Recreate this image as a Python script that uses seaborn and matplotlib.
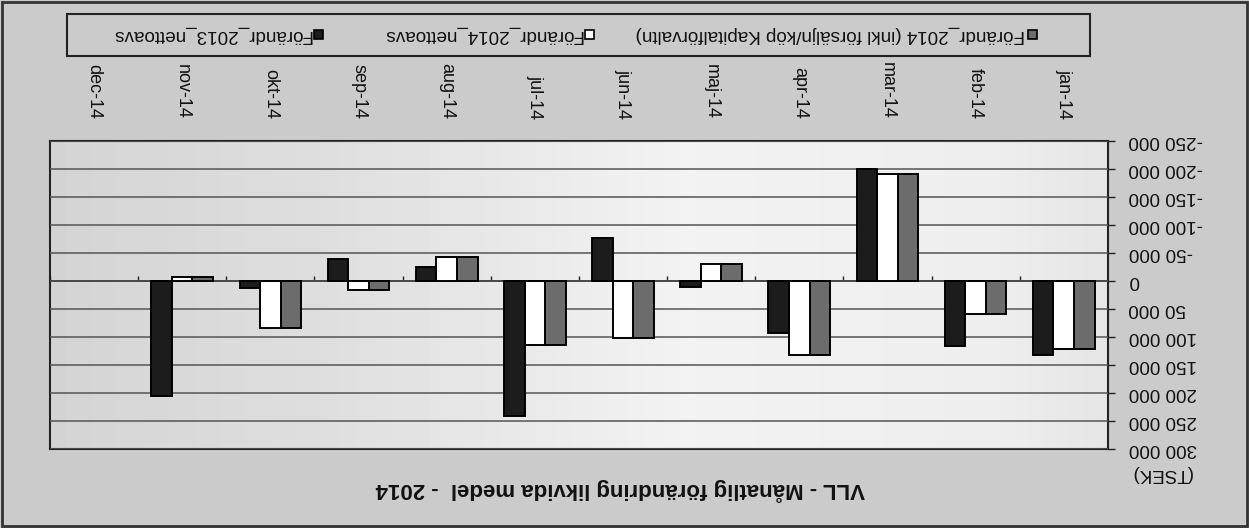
import numpy as np
import pandas as pd
import matplotlib
matplotlib.use("Agg")
import matplotlib.pyplot as plt
from matplotlib.patches import Rectangle
from matplotlib.ticker import FuncFormatter, MultipleLocator
import seaborn as sns

# ==================== data (TSEK) ====================
months = ["jan-14", "feb-14", "mar-14", "apr-14", "maj-14", "jun-14",
          "jul-14", "aug-14", "sep-14", "okt-14", "nov-14", "dec-14"]
series_names = ["Förändr_2014 (inkl försäljn/köp Kapitalförvaltn)",
                "Förändr_2014_nettoavs",
                "Förändr_2013_nettoavs"]
inkl_2014 = [121000, 60000, -191000, 133000, -30000, 102000,
             114000, -42000, 17000, 85000, -7000, np.nan]
netto_2014 = [121000, 60000, -191000, 133000, -30000, 102000,
              114000, -42000, 17000, 85000, -7000, np.nan]
netto_2013 = [132000, 117000, -200000, 93000, 11000, -77000,
              241000, -24000, -39000, 13000, 205000, np.nan]
series_colors = ["#6c6c6c", "#ffffff", "#1c1c1c"]

title = "VLL - Månatlig förändring likvida medel  - 2014"
unit = "(TSEK)"

df = pd.DataFrame({
    "month": months * 3,
    "serie": [series_names[0]] * 12 + [series_names[1]] * 12 + [series_names[2]] * 12,
    "value": inkl_2014 + netto_2014 + netto_2013,
})

# ==================== style ====================
sns.set_theme(style="white")
plt.rcParams["font.family"] = ["Liberation Sans", "DejaVu Sans"]

fig = plt.figure(figsize=(12.49, 5.28), dpi=100)
fig.patch.set_facecolor("#cbcbcb")
ax = fig.add_axes([0.040, 0.150, 0.847, 0.583])
ax.set_facecolor("#e6e6e6")

sns.barplot(data=df, x="month", y="value", hue="serie", order=months,
            hue_order=series_names, palette=series_colors, width=0.7,
            edgecolor="black", linewidth=1.4, legend=False, ax=ax, zorder=3)

# soft light falloff of the scanned plot area (darker on the left side of the picture)
shade = np.interp(np.linspace(0, 1, 200), [0, 0.25, 0.6, 0.9, 1], [0.83, 0.87, 0.95, 0.93, 0.90])
ax.imshow(shade[np.newaxis, :], cmap="gray", vmin=0, vmax=1, aspect="auto",
          extent=(11.5, -0.5, 300000, -250000), zorder=0, interpolation="bilinear")

# the scan is upside down: flip both axes and turn all text 180 degrees
ax.set_ylim(300000, -250000)
ax.set_xlim(11.5, -0.5)

ax.yaxis.set_major_locator(MultipleLocator(50000))
ax.yaxis.set_major_formatter(FuncFormatter(lambda v, p: f"{int(v):,}".replace(",", " ")))
ax.grid(axis="y", color="#555555", linewidth=1.1, zorder=1)
ax.grid(axis="x", visible=False)
ax.set_axisbelow(False)
for gl in ax.get_ygridlines():
    gl.set_zorder(1)

ax.yaxis.tick_right()
ax.tick_params(axis="y", direction="out", length=5, width=1, color="#222222",
               labelsize=13.5, pad=10, right=True, left=False)
for lab in ax.get_yticklabels():
    lab.set_rotation(180)
    lab.set_va("center")
    lab.set_color("#111111")

ax.xaxis.tick_top()
ax.tick_params(axis="x", length=0, labelsize=13, pad=16)
for lab in ax.get_xticklabels():
    lab.set_rotation(270)
    lab.set_va("bottom")
    lab.set_ha("center")
    lab.set_color("#111111")
ax.set_xlabel("")
ax.set_ylabel("")

# category axis at zero with small ticks between the groups
ax.axhline(0, color="#222222", linewidth=1.4, zorder=2)
ax.vlines(np.arange(-0.5, 12, 1.0), 0, -9000, color="#222222", linewidth=1.0, zorder=2)

for s in ax.spines.values():
    s.set_visible(True)
    s.set_color("#222222")
    s.set_linewidth(1.5)

# title and unit, turned
fig.text(0.497, 0.072, title, rotation=180, ha="center", va="center",
         fontsize=16, fontweight="bold", color="#111111")
fig.text(0.905, 0.104, unit, rotation=180, ha="left", va="center",
         fontsize=13.5, color="#111111")

# legend box (drawn by hand so the text can be upside down)
fig.add_artist(Rectangle((0.0536, 0.894), 0.819, 0.0795, transform=fig.transFigure,
                         facecolor="none", edgecolor="#222222", linewidth=1.5))
marker_x = [0.827, 0.472, 0.255]
w, h = 9 / 1249, 9 / 528
for name, col, mx in zip(series_names, series_colors, marker_x):
    fig.add_artist(Rectangle((mx - w / 2, 0.934 - h / 2), w, h, transform=fig.transFigure,
                             facecolor=col, edgecolor="black", linewidth=1.2))
    fig.text(mx - 0.006, 0.934, name, rotation=180, ha="right", va="center",
             fontsize=13.6, color="#111111")

# outer frame of the chart
fig.add_artist(Rectangle((0.002, 0.004), 0.996, 0.992, transform=fig.transFigure,
                         facecolor="none", edgecolor="#333333", linewidth=2))

fig.savefig("out.png", dpi=100, facecolor=fig.get_facecolor())
